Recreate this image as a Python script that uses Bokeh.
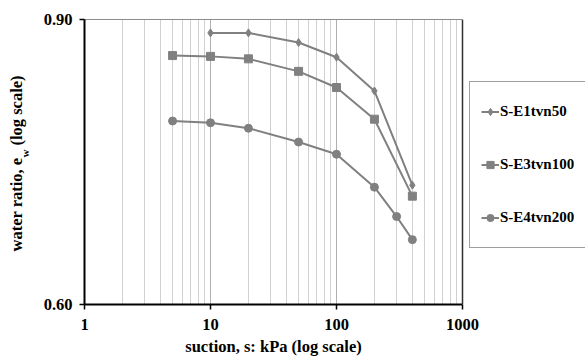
from bokeh.plotting import figure
from bokeh.models import (FixedTicker, PrintfTickFormatter, CustomJSTickFormatter,
                          Legend, LegendItem, Span, LogAxis)
from bokeh.embed import file_html
from bokeh.resources import INLINE
import math

# ---- data ----
s1_name = "S-E1tvn50"
s1_x = [10, 20, 50, 100, 200, 400]
s1_y = [0.883, 0.883, 0.871, 0.853, 0.813, 0.711]

s2_name = "S-E3tvn100"
s2_x = [5, 10, 20, 50, 100, 200, 400]
s2_y = [0.855, 0.854, 0.851, 0.836, 0.817, 0.781, 0.700]

s3_name = "S-E4tvn200"
s3_x = [5, 10, 20, 50, 100, 200, 300, 400]
s3_y = [0.779, 0.777, 0.771, 0.756, 0.743, 0.709, 0.680, 0.658]

x_ticks = [1, 10, 100, 1000]
x_minor = [m * d for d in (1, 10, 100) for m in range(2, 10)]
y_ticks = [0.60, 0.90]

x_title = "suction, s: kPa (log scale)"
y_title_parts = ["water ratio, e", "(log scale)"]
y_title_sub = "w"

FONT = "Liberation Serif"
GRAY = "#808080"

W, H = 585, 358
FL, FR, FT, FB = 84, 462, 19, 304   # plot-area edges in canvas px (x=1..1000)
X0, X1 = x_ticks[0], x_ticks[-1]
Y0, Y1 = y_ticks[0], y_ticks[-1]
# the frame runs to the right canvas edge so the legend can sit right of x=1000
x_end = 10 ** (math.log10(X1 / X0) * (W - FL) / (FR - FL)) * X0

def y_at(py):
    """data value shown at canvas row py (log y scale)"""
    return Y0 * (Y1 / Y0) ** ((FB - py) / (FB - FT))

def x_at(px):
    """data value shown at canvas column px (log x scale)"""
    return X0 * (X1 / X0) ** ((px - FL) / (FR - FL))

p = figure(width=W, height=H, x_axis_type="log", y_axis_type="log",
           x_range=(X0, x_end), y_range=(Y0, Y1),
           output_backend="svg", toolbar_location=None,
           min_border_left=FL, min_border_right=0,
           min_border_top=FT, min_border_bottom=H - FB)
p.background_fill_color = "white"
p.border_fill_color = "white"
p.outline_line_color = None

p.xaxis.ticker = FixedTicker(ticks=x_ticks, minor_ticks=x_minor)
p.xaxis.formatter = PrintfTickFormatter(format="%d")
p.xaxis.bounds = (X0, X1)
p.yaxis.ticker = FixedTicker(ticks=y_ticks, minor_ticks=[])
p.yaxis.formatter = PrintfTickFormatter(format="%.2f")
for ax in (p.xaxis[0], p.yaxis[0]):
    ax.axis_line_color = "black"
    ax.axis_line_width = 2
    ax.major_tick_line_color = "black"
    ax.major_tick_line_width = 1.5
    ax.major_tick_out = 5
    ax.major_tick_in = 0
    ax.minor_tick_out = 0
    ax.minor_tick_in = 0
    ax.major_label_text_font = FONT
    ax.major_label_text_font_style = "bold"
    ax.major_label_text_font_size = "16.5px"
    ax.major_label_text_color = "black"
p.xaxis.major_label_standoff = 9
p.yaxis.major_label_standoff = 7

# top border of the plot area (x = 1..1000 only)
top = LogAxis(ticker=FixedTicker(ticks=[], minor_ticks=[]), bounds=(X0, X1),
              axis_line_color="#8c8c8c", axis_line_width=1,
              major_tick_out=0, major_tick_in=0, minor_tick_out=0, minor_tick_in=0,
              major_label_standoff=0)
p.add_layout(top, "above")

# axis titles written as tick labels of extra (invisible) axes, so that they can
# be centred on the 1..1000 plot area and the subscript "w" can be small and low
def text_axis(ticks, labels, size, standoff, orient):
    return LogAxis(ticker=FixedTicker(ticks=ticks, minor_ticks=[]),
                   formatter=CustomJSTickFormatter(args=dict(labels=labels),
                                                   code="return labels[index]"),
                   axis_line_color=None, major_tick_line_color=None,
                   minor_tick_line_color=None,
                   major_tick_out=0, major_tick_in=0, minor_tick_out=0, minor_tick_in=0,
                   major_label_orientation=orient,
                   major_label_standoff=standoff,
                   major_label_text_font=FONT, major_label_text_font_style="bold",
                   major_label_text_font_size=size, major_label_text_color="black")

p.add_layout(text_axis([x_at((FL + FR) / 2)], [x_title], "16.5px", 4, "horizontal"), "below")

fs = 16.5
w_a = 5.692 * fs
w_w = 0.722 * 11
w_sp = 0.25 * fs
w_b = 4.249 * fs
bot = 251
a_c = bot - w_a / 2
w_c = bot - w_a - w_w / 2
b_c = bot - w_a - w_w - w_sp - w_b / 2
p.add_layout(text_axis([y_at(w_c)], [y_title_sub], "11px", 9, "parallel"), "left")
p.add_layout(text_axis([y_at(b_c), y_at(a_c)], y_title_parts[::-1], "16.5px", -10, "parallel"), "left")

p.ygrid.grid_line_color = None
p.xgrid.grid_line_color = "#b0b0b0"
p.xgrid.grid_line_width = 1
p.xgrid.minor_grid_line_color = "#d0d0d0"
p.xgrid.minor_grid_line_width = 1
p.add_layout(Span(location=X1, dimension="height", line_color="#303030", line_width=1.5))

r1l = p.line(s1_x, s1_y, line_color=GRAY, line_width=2)
r1m = p.scatter(s1_x, s1_y, marker="diamond", size=8, fill_color=GRAY, line_color=GRAY)
r2l = p.line(s2_x, s2_y, line_color=GRAY, line_width=2)
r2m = p.scatter(s2_x, s2_y, marker="square", size=8, fill_color=GRAY, line_color=GRAY)
r3l = p.line(s3_x, s3_y, line_color=GRAY, line_width=2)
r3m = p.scatter(s3_x, s3_y, marker="circle", size=8, fill_color=GRAY, line_color=GRAY)

legend = Legend(items=[LegendItem(label=s1_name, renderers=[r1l, r1m]),
                       LegendItem(label=s2_name, renderers=[r2l, r2m]),
                       LegendItem(label=s3_name, renderers=[r3l, r3m])],
                location=(469 - FL, FB - 248))
legend.border_line_color = "#404040"
legend.border_line_width = 1
legend.background_fill_color = "white"
legend.background_fill_alpha = 1
legend.padding = 11
legend.spacing = 16
legend.glyph_width = 18
legend.glyph_height = 37
legend.label_height = 37
legend.label_standoff = 1
legend.margin = 0
legend.label_text_font = FONT
legend.label_text_font_style = "bold"
legend.label_text_font_size = "15px"
legend.label_text_color = "black"
p.add_layout(legend, "center")

open("out.html", "w").write(file_html(p, INLINE))
